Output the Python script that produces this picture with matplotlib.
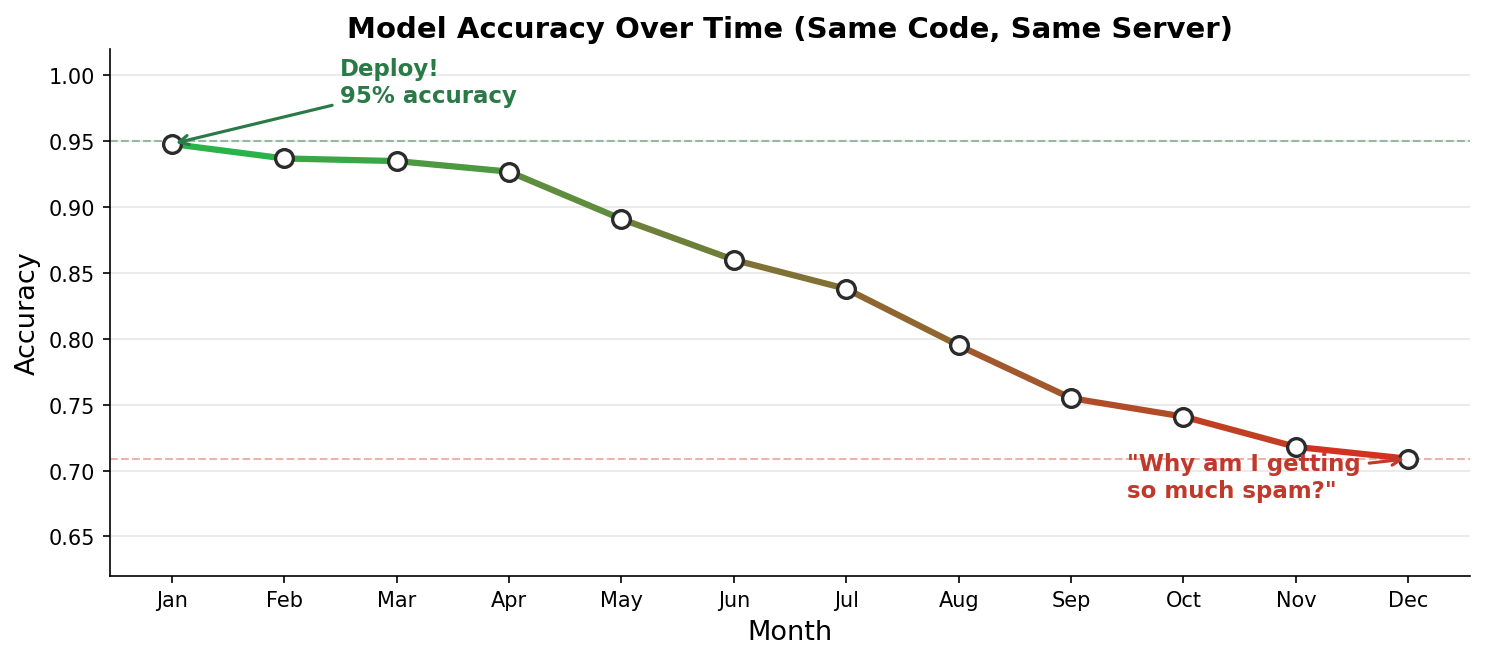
import matplotlib.pyplot as plt
import numpy as np
from matplotlib.colors import LinearSegmentedColormap

months = ["Jan", "Feb", "Mar", "Apr", "May", "Jun", "Jul", "Aug", "Sep", "Oct", "Nov", "Dec"]
accuracy = [0.948, 0.937, 0.935, 0.927, 0.891, 0.860, 0.838, 0.795, 0.755, 0.741, 0.718, 0.709]

fig = plt.figure(figsize=(9.9, 4.393), dpi=150)
ax = fig.add_axes([0.074, 0.1245, 0.916, 0.7995])

x = np.arange(len(months))
cmap = LinearSegmentedColormap.from_list("gr", ["#2bb34a", "#d2321f"])
n = len(months) - 1
for i in range(n):
    ax.plot(x[i:i + 2], accuracy[i:i + 2], color=cmap(i / (n - 1)), linewidth=3,
            solid_capstyle="round", zorder=2)
ax.plot(x, accuracy, linestyle="none", marker="o", markersize=8.5, markerfacecolor="white",
        markeredgecolor="#2b2b2b", markeredgewidth=1.6, zorder=3)

ax.axhline(0.95, color="#2a7a45", linestyle="--", linewidth=1, alpha=0.45, zorder=1)
ax.axhline(accuracy[-1], color="#d9543f", linestyle="--", linewidth=1, alpha=0.45, zorder=1)

ax.annotate("Deploy!\n95% accuracy", xy=(0, accuracy[0]), xytext=(1.5, 0.98),
            fontsize=11, fontweight="bold", color="#2a7a48",
            arrowprops=dict(arrowstyle="->", color="#2a7a48", lw=1.5))
ax.annotate("\"Why am I getting\nso much spam?\"", xy=(11, accuracy[-1]), xytext=(8.5, 0.68),
            fontsize=11, fontweight="bold", color="#c0392b",
            arrowprops=dict(arrowstyle="->", color="#c0392b", lw=1.5))

ax.set_xticks(x)
ax.set_xticklabels(months)
ax.set_ylim(0.62, 1.02)
ax.set_yticks([0.65, 0.70, 0.75, 0.80, 0.85, 0.90, 0.95, 1.00])
ax.yaxis.grid(True, color="#ebebeb", linewidth=1)
ax.set_axisbelow(True)
ax.spines["top"].set_visible(False)
ax.spines["right"].set_visible(False)
ax.tick_params(labelsize=10)

ax.set_xlabel("Month", fontsize=13)
ax.set_ylabel("Accuracy", fontsize=13)
ax.set_title("Model Accuracy Over Time (Same Code, Same Server)", fontsize=14, fontweight="bold")

plt.savefig("out.png", dpi=150)
